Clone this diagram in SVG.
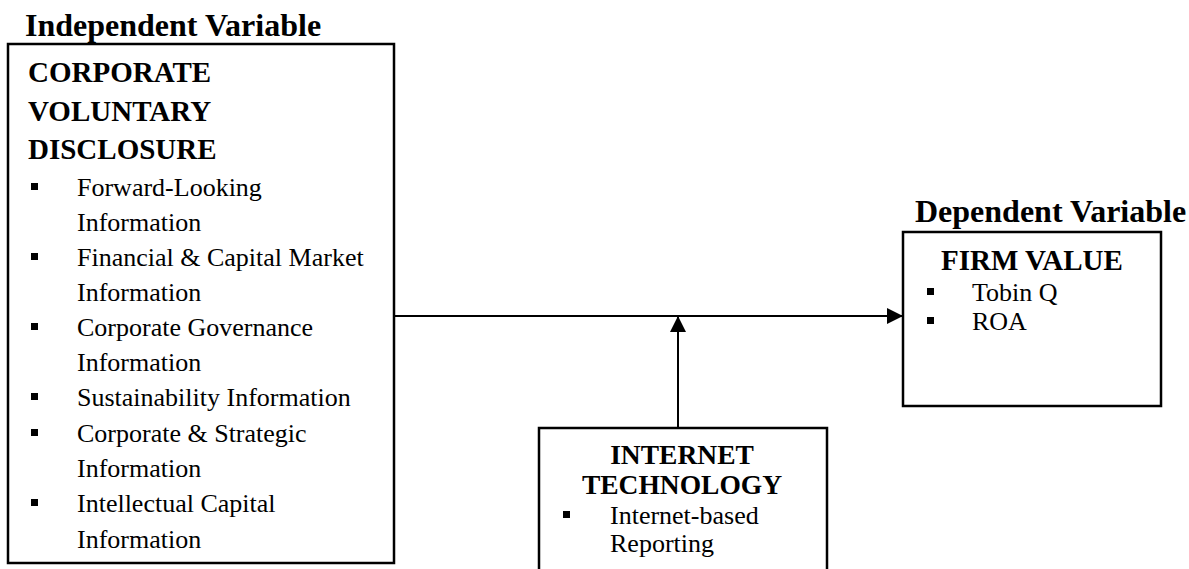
<svg xmlns="http://www.w3.org/2000/svg" width="1189" height="569" viewBox="0 0 1189 569">
<style>
text{font-family:"Liberation Serif","Times New Roman",serif;fill:#000}
.title{font-size:32px;font-weight:bold}
.head{font-size:29px;font-weight:bold}
.head2{font-size:27.5px;font-weight:bold}
.body{font-size:26px}
.box{fill:#fff;stroke:#000;stroke-width:2.5}
.bul{fill:#000}
.conn{stroke:#000;stroke-width:2;fill:none}
</style>
<defs>
<marker id="ah2" viewBox="0 0 16 16" refX="16" refY="8" markerWidth="16" markerHeight="16" markerUnits="userSpaceOnUse" orient="auto">
<path d="M0,0 L16,8 L0,16 z" fill="#000"/>
</marker>
</defs>

<g id="connectors">
<line class="conn" x1="395" y1="316" x2="903" y2="316" marker-end="url(#ah2)"/>
<line class="conn" x1="678" y1="428" x2="678" y2="316" marker-end="url(#ah2)"/>
</g>

<g id="independent">
<text class="title" x="25" y="36">Independent Variable</text>
<rect class="box" x="8" y="44" width="386" height="519"/>
<text class="head" x="28" y="82">CORPORATE</text>
<text class="head" x="28" y="121">VOLUNTARY</text>
<text class="head" x="28" y="159">DISCLOSURE</text>
<rect class="bul" x="31" y="183" width="7" height="7"/>
<text class="body" x="77" y="196">Forward-Looking</text>
<text class="body" x="77" y="231">Information</text>
<rect class="bul" x="31" y="253" width="7" height="7"/>
<text class="body" x="77" y="266">Financial &amp; Capital Market</text>
<text class="body" x="77" y="301">Information</text>
<rect class="bul" x="31" y="323" width="7" height="7"/>
<text class="body" x="77" y="336">Corporate Governance</text>
<text class="body" x="77" y="371">Information</text>
<rect class="bul" x="31" y="393" width="7" height="7"/>
<text class="body" x="77" y="406">Sustainability Information</text>
<rect class="bul" x="31" y="429" width="7" height="7"/>
<text class="body" x="77" y="442">Corporate &amp; Strategic</text>
<text class="body" x="77" y="477">Information</text>
<rect class="bul" x="31" y="499" width="7" height="7"/>
<text class="body" x="77" y="512">Intellectual Capital</text>
<text class="body" x="77" y="548">Information</text>
</g>

<g id="dependent">
<text class="title" x="915" y="222">Dependent Variable</text>
<rect class="box" x="903" y="232" width="258" height="174"/>
<text class="head" x="1032" y="270" text-anchor="middle">FIRM VALUE</text>
<rect class="bul" x="927" y="288" width="7" height="7"/>
<text class="body" x="972" y="301">Tobin Q</text>
<rect class="bul" x="927" y="317" width="7" height="7"/>
<text class="body" x="972" y="330">ROA</text>
</g>

<g id="moderator">
<rect class="box" x="539" y="428" width="288" height="150"/>
<text class="head2" x="682" y="464" text-anchor="middle">INTERNET</text>
<text class="head2" x="682" y="494" text-anchor="middle">TECHNOLOGY</text>
<rect class="bul" x="563" y="511" width="7" height="7"/>
<text class="body" x="610" y="524">Internet-based</text>
<text class="body" x="610" y="552">Reporting</text>
</g>
</svg>
